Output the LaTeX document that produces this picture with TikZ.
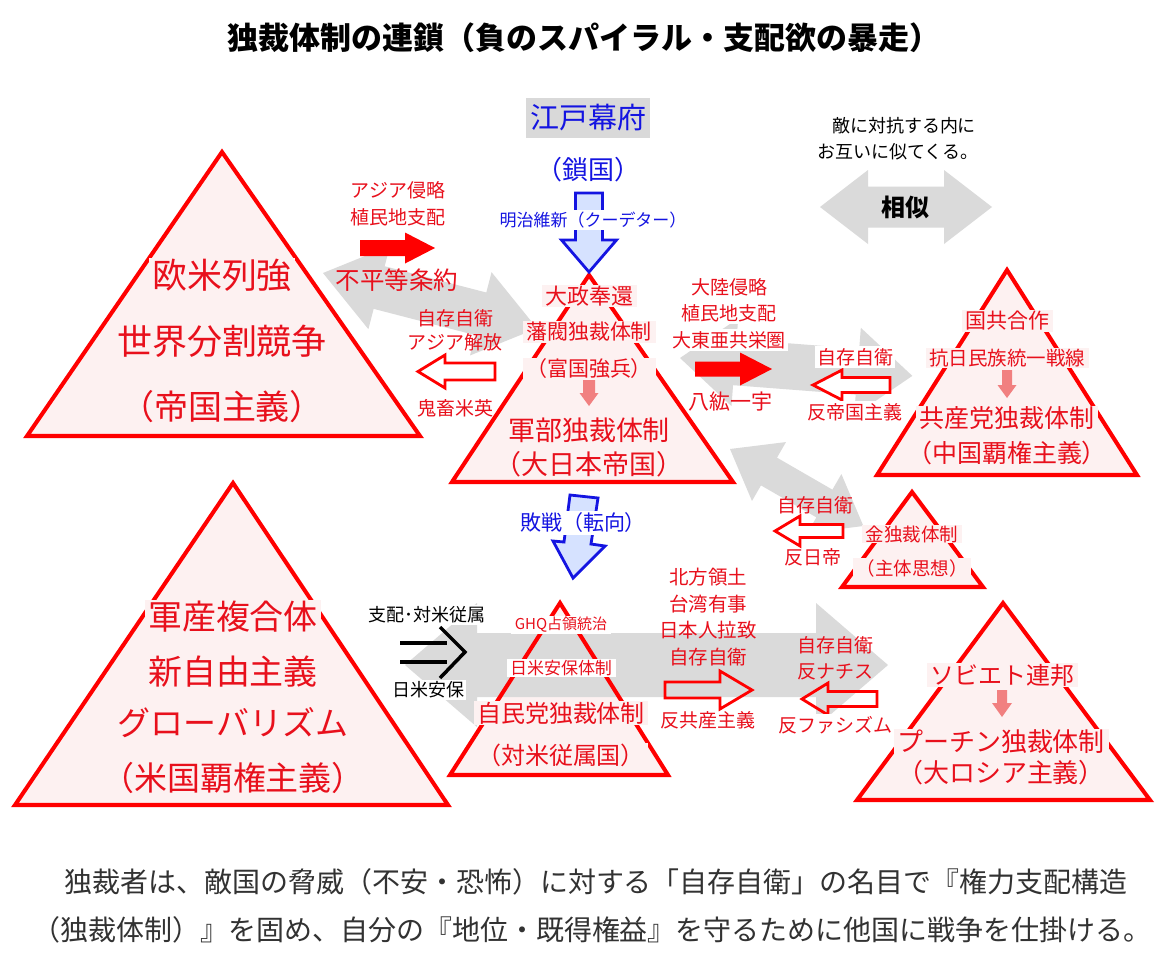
\documentclass[tikz,border=0pt]{standalone}
\usepackage{fontspec}
\setmainfont{Noto Sans CJK JP}
\usepackage{tikz}
\usetikzlibrary{positioning,calc}
\definecolor{TriRed}{RGB}{255,0,0}
\definecolor{TxtRed}{RGB}{232,16,28}
\definecolor{TriFill}{RGB}{253,241,241}
\definecolor{ArrGrey}{RGB}{218,218,218}
\definecolor{PinkArr}{RGB}{241,128,128}
\definecolor{EdoBlue}{RGB}{20,20,225}
\definecolor{BlueFill}{RGB}{214,226,255}
\definecolor{EdoGrey}{RGB}{217,217,217}
\definecolor{NoteGrey}{RGB}{50,50,50}
% font size given in pixels of the picture grid
\newcommand\pxf[1]{\fontsize{\fpeval{#1*0.569}pt}{\fpeval{#1*0.72}pt}\selectfont}
% one-headed block arrow: style, start, angle, length, half shaft, half head, head length
\newcommand\blockarrow[7]{%
  \begin{scope}[shift={#2}, rotate=#3]
    \path[#1] (0,-#5) -- ({#4-#7},-#5) -- ({#4-#7},-#6) -- (#4,0)
      -- ({#4-#7},#6) -- ({#4-#7},#5) -- (0,#5) -- cycle;
  \end{scope}}
% two-headed block arrow, same arguments
\newcommand\dblarrow[7]{%
  \begin{scope}[shift={#2}, rotate=#3]
    \path[#1] (0,0) -- (#7,-#6) -- (#7,-#5) -- ({#4-#7},-#5) -- ({#4-#7},-#6)
      -- (#4,0) -- ({#4-#7},#6) -- ({#4-#7},#5) -- (#7,#5) -- (#7,#6) -- cycle;
  \end{scope}}

\begin{document}
\begin{tikzpicture}[
  x=0.02cm, y=-0.02cm,
  tri/.style={draw=TriRed, line width=2.3pt, line join=miter},
  grey/.style={fill=ArrGrey},
  solidarr/.style={fill=TriRed},
  hollow/.style={draw=TriRed, line width=1.6pt, fill=white},
  pinkarr/.style={fill=PinkArr},
  bluearr/.style={draw=EdoBlue, line width=1.6pt, fill=BlueFill},
  blkarr/.style={draw=black, line width=2pt},
  intri/.style={text=TxtRed, fill=TriFill, inner xsep=2pt, inner ysep=0.5pt},
  lbl/.style={text=TxtRed, inner sep=1pt, font=\pxf{19}},
  note/.style={text=black, inner sep=1pt, font=\pxf{18}},
  blue/.style={text=EdoBlue, inner sep=1pt}
]
\path[use as bounding box, fill=white] (0,0) rectangle (1162,975);

% --- TRIANGLE CORNERS AND FILLS ---
\foreach \n/\a/\b/\c in {west/{222,152}/{27,436}/{420,436},
                         usa/{233,483}/{15,805}/{448,805},
                         jpn/{589,275}/{452,482}/{733,482},
                         chn/{1007,270}/{877,475}/{1137,475},
                         nk/{912,492}/{842,587}/{983,587},
                         ldp/{560,603}/{450,775}/{668,775},
                         rus/{1003,603}/{857,800}/{1150,800}}
{
  \coordinate (\n top) at (\a);
  \coordinate (\n left) at (\b);
  \coordinate (\n right) at (\c);
  \fill[TriFill] (\n top) -- (\n left) -- (\n right) -- cycle;
}

% --- GREY ARROWS ---
\dblarrow{grey}{(323,273)}{-14.5}{221}{22}{43}{58}
\dblarrow{grey}{(680,358)}{-4.4}{233}{23}{44}{55}
\dblarrow{grey}{(730,449)}{-30}{154}{16}{34}{45}
\dblarrow{grey}{(405,665)}{0}{483}{32}{62}{72}
\dblarrow{grey}{(820,207)}{0}{172}{20.5}{37}{48}

% --- TRIANGLE OUTLINES ---
\foreach \n in {west,usa,jpn,chn,nk,ldp,rus}
  \draw[tri] (\n top) -- (\n left) -- (\n right) -- cycle;

% --- RED, PINK AND BLUE ARROWS ---
\blockarrow{solidarr}{(360,248)}{0}{75}{8}{15.5}{30}
\blockarrow{solidarr}{(695,369)}{0}{77}{7.5}{16.5}{32}
\blockarrow{hollow}{(495,371.5)}{180}{77}{8.5}{16.5}{27}
\blockarrow{hollow}{(890,385)}{180}{77}{7.5}{15}{29}
\blockarrow{hollow}{(843,531)}{180}{68}{6.5}{15}{25}
\blockarrow{hollow, fill=none}{(665,690)}{0}{87}{8}{19}{32}
\blockarrow{hollow, fill=none}{(877,699)}{180}{75}{7.5}{16}{26}
\blockarrow{pinkarr}{(589,378)}{-90}{28}{6}{9.5}{13}
\blockarrow{pinkarr}{(1007,370)}{-90}{28}{5}{9.5}{13}
\blockarrow{pinkarr}{(1002,690)}{-90}{27}{5}{10}{14}
\blockarrow{bluearr}{(589,193)}{-90}{79}{13.5}{27.5}{32}
\path[bluearr] (570,495) -- (598,498) -- (591,544) -- (605,546) -- (573,578)
  -- (553,541) -- (564,542) -- cycle;

% --- TITLE ---
\node[font=\pxf{31}\bfseries] (title) at (584,38) {独裁体制の連鎖（負のスパイラル・支配欲の暴走）};

% --- WESTERN POWERS ---
\node[intri, font=\pxf{35}] (west1) at (222,275) {欧米列強};
\node[intri, font=\pxf{35}] (west2) at (222,341) {世界分割競争};
\node[intri, font=\pxf{34}] (west3) at (222,407) {（帝国主義）};
\node[lbl] (asia1) at (398,190) {アジア侵略};
\node[lbl] (asia2) at (398,217) {植民地支配};
\node[lbl, font=\pxf{24.5}] (treaty) at (397,280) {不平等条約};
\node[lbl] (jdef1) at (455,318) {自存自衛};
\node[lbl] (jdef2) at (455,342) {アジア解放};
\node[lbl] (kichiku) at (455,408) {鬼畜米英};

% --- EDO / MEIJI ---
\node[fill=EdoGrey, text=EdoBlue, font=\pxf{29}, minimum width=2.5cm, minimum height=0.8cm, inner sep=0pt] (edo) at (588,118) {江戸幕府};
\node[blue, font=\pxf{26}] (sakoku) at (588,170) {（鎖国）};
\node[blue, fill=white, font=\pxf{17}] (meiji) at (593,220) {明治維新（クーデター）};

% --- EMPIRE OF JAPAN ---
\node[intri, font=\pxf{22}] (jpn1) at (589,296) {大政奉還};
\node[intri, font=\pxf{21}] (jpn2) at (589,332) {藩閥独裁体制};
\node[intri, font=\pxf{21}] (jpn3) at (589,369) {（富国強兵）};
\node[intri, font=\pxf{27}] (jpn4) at (589,430) {軍部独裁体制};
\node[intri, font=\pxf{27}] (jpn5) at (589,464) {（大日本帝国）};
\foreach \i/\txt in {0/大陸侵略,1/植民地支配,2/大東亜共栄圏}
  \node[lbl, fill=white] (cont\i) at (729,287+\i*26.5) {\txt};
\node[lbl, font=\pxf{21}] (hakko) at (730,402) {八紘一宇};
\node[lbl, fill=white] (cdef) at (855,357) {自存自衛};
\node[lbl, fill=white] (antiimp) at (855,412) {反帝国主義};

% --- CHINA ---
\node[intri, font=\pxf{21}] (chn1) at (1007,321) {国共合作};
\node[intri, font=\pxf{19.5}] (chn2) at (1007,358) {抗日民族統一戦線};
\node[intri, font=\pxf{25}] (chn3) at (1007,418) {共産党独裁体制};
\node[intri, font=\pxf{25}] (chn4) at (1007,453) {（中国覇権主義）};

% --- NORTH KOREA ---
\node[intri, font=\pxf{18.5}] (nk1) at (912,534) {金独裁体制};
\node[intri, font=\pxf{18.5}] (nk2) at (912,568) {（主体思想）};
\node[lbl] (nkdef) at (815,505) {自存自衛};
\node[lbl] (antijp) at (813,557) {反日帝};

% --- DEFEAT ---
\node[blue, fill=white, font=\pxf{21}] (defeat) at (583,523) {敗戦（転向）};

% --- USA ---
\node[intri, font=\pxf{34}] (usa1) at (233,617) {軍産複合体};
\node[intri, font=\pxf{34}] (usa2) at (233,672) {新自由主義};
\node[intri, font=\pxf{33}] (usa3) at (233,723) {グローバリズム};
\node[intri, font=\pxf{33}] (usa4) at (233,778) {（米国覇権主義）};
\node[note, fill=white] (rule) at (427,615) {支配･対米従属};
\node[note, fill=white] (anpo) at (428,690) {日米安保};
\draw[blkarr] (400,643) -- (447,643);
\draw[blkarr] (400,662) -- (447,662);
\draw[blkarr] (440,627) -- (465,652) -- (440,678);

% --- LDP ---
\node[intri, fill=white, font=\pxf{15}] (ldp1) at (561,625) {GHQ占領統治};
\node[intri, fill=white, font=\pxf{17}] (ldp2) at (561,668) {日米安保体制};
\node[intri, font=\pxf{24}] (ldp3) at (561,713) {自民党独裁体制};
\node[intri, font=\pxf{24}] (ldp4) at (561,755) {（対米従属国）};
\foreach \i/\txt in {0/北方領土,1/台湾有事,2/日本人拉致,3/自存自衛}
  \node[lbl, font=\pxf{19.5}] (issue\i) at (708,577+\i*26.7) {\txt};
\node[lbl] (anticom) at (708,720) {反共産主義};
\node[lbl] (rdef1) at (835,645) {自存自衛};
\node[lbl] (rdef2) at (835,672) {反ナチス};
\node[lbl, fill=white] (antifas) at (835,725) {反ファシズム};

% --- RUSSIA ---
\node[intri, font=\pxf{24}] (rus1) at (1002,675) {ソビエト連邦};
\node[intri, font=\pxf{26}] (rus2) at (1001,742) {プーチン独裁体制};
\node[intri, font=\pxf{26}] (rus3) at (1001,773) {（大ロシア主義）};

% --- SIMILARITY ---
\node[note] (sim1) at (904,126) {敵に対抗する内に};
\node[note] (sim2) at (898,152) {お互いに似てくる。};
\node[font=\pxf{24}\bfseries] (sim) at (905,207) {相似};

% --- NOTE ---
\node[text=NoteGrey, font=\pxf{28}] (note1) at (596,882) {独裁者は、敵国の脅威（不安・恐怖）に対する「自存自衛」の名目で『権力支配構造};
\node[text=NoteGrey, font=\pxf{28}] (note2) at (592,930) {（独裁体制）』を固め、自分の『地位・既得権益』を守るために他国に戦争を仕掛ける。};

\end{tikzpicture}
\end{document}
